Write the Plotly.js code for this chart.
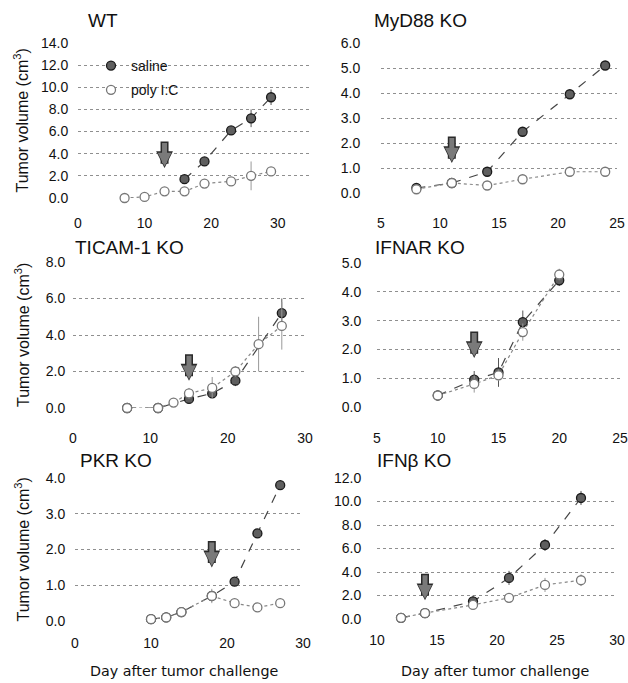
<!DOCTYPE html>
<html>
<head>
<meta charset="utf-8">
<script src="https://cdn.plot.ly/plotly-3.0.1.min.js"></script>
<style>html,body{margin:0;padding:0;background:#fff;}#chart{width:628px;height:683px;}</style>
</head>
<body>
<div id="chart"></div>
<script>
// ---- Data ----
const panelNames = ["WT", "MyD88 KO", "TICAM-1 KO", "IFNAR KO", "PKR KO", "IFN\u03b2 KO"];

const wtSalineDays = [16, 19, 23, 26, 29];
const wtSalineVol  = [1.7, 3.3, 6.1, 7.2, 9.1];
const wtSalineErr  = [0.3, 0.4, 0.3, 0.8, 0.7];
const wtPolyDays   = [7, 10, 13, 16, 19, 23, 26, 29];
const wtPolyVol    = [0.0, 0.1, 0.6, 0.6, 1.3, 1.5, 2.0, 2.4];
const wtPolyErr    = [0.0, 0.1, 0.2, 0.3, 0.3, 0.4, 1.3, 0.3];

const myd88SalineDays = [8, 11, 14, 17, 21, 24];
const myd88SalineVol  = [0.2, 0.4, 0.85, 2.45, 3.95, 5.1];
const myd88SalineErr  = [0.05, 0.05, 0.1, 0.1, 0.1, 0.1];
const myd88PolyDays   = [8, 11, 14, 17, 21, 24];
const myd88PolyVol    = [0.15, 0.4, 0.3, 0.55, 0.85, 0.85];
const myd88PolyErr    = [0.05, 0.05, 0.1, 0.05, 0.1, 0.1];

const ticamSalineDays = [7, 11, 15, 18, 21, 27];
const ticamSalineVol  = [0.0, 0.0, 0.5, 0.8, 1.5, 5.2];
const ticamSalineErr  = [0.0, 0.0, 0.2, 0.2, 0.3, 0.8];
const ticamPolyDays   = [7, 11, 13, 15, 18, 21, 24, 27];
const ticamPolyVol    = [0.0, 0.0, 0.3, 0.8, 1.1, 2.0, 3.5, 4.5];
const ticamPolyErr    = [0.0, 0.0, 0.1, 0.3, 0.6, 0.3, 1.5, 1.3];

const ifnarSalineDays = [10, 13, 15, 17, 20];
const ifnarSalineVol  = [0.4, 0.95, 1.2, 2.95, 4.4];
const ifnarSalineErr  = [0.05, 0.3, 0.5, 0.4, 0.2];
const ifnarPolyDays   = [10, 13, 15, 17, 20];
const ifnarPolyVol    = [0.4, 0.8, 1.1, 2.6, 4.6];
const ifnarPolyErr    = [0.05, 0.3, 0.2, 0.3, 0.2];

const pkrSalineDays = [10, 12, 14, 18, 21, 24, 27];
const pkrSalineVol  = [0.05, 0.1, 0.25, 0.7, 1.1, 2.45, 3.8];
const pkrSalineErr  = [0.0, 0.05, 0.05, 0.15, 0.1, 0.1, 0.05];
const pkrPolyDays   = [10, 12, 14, 18, 21, 24, 27];
const pkrPolyVol    = [0.05, 0.1, 0.25, 0.7, 0.5, 0.38, 0.5];
const pkrPolyErr    = [0.0, 0.05, 0.05, 0.2, 0.1, 0.05, 0.1];

const ifnbSalineDays = [12, 14, 18, 21, 24, 27];
const ifnbSalineVol  = [0.1, 0.5, 1.5, 3.5, 6.3, 10.3];
const ifnbSalineErr  = [0.05, 0.1, 0.5, 0.6, 0.5, 0.6];
const ifnbPolyDays   = [12, 14, 18, 21, 24, 27];
const ifnbPolyVol    = [0.1, 0.5, 1.2, 1.8, 2.9, 3.3];
const ifnbPolyErr    = [0.05, 0.1, 0.3, 0.4, 0.6, 0.5];

// treatment arrows (day, volume at tip)
const arrowDays = [13, 11, 15, 13, 18, 14];
const arrowVol  = [2.7, 1.2, 1.5, 1.7, 1.5, 1.6];

const xRanges = [[0, 35], [5, 25], [0, 30], [5, 25], [0, 30], [10, 30]];
const xDticks = [10, 5, 10, 5, 10, 5];
const yRanges = [[0, 14], [0, 6], [0, 8], [0, 5], [0, 4], [0, 12]];
const yDticks = [2, 1, 2, 1, 1, 2];

const seriesNames = ["saline", "poly I:C"];
const yTitle = "Tumor volume (cm<sup>3</sup>)";
const xTitle = "Day after tumor challenge";

// ---- Layout geometry ----
const W = 628, H = 683;
const pxBoxes = [ // [left, right, top, bottom] in pixels
  [78, 311, 43, 198],
  [381, 617, 43, 193],
  [73, 305, 262, 408],
  [377, 620, 263, 407],
  [75, 303, 478, 621],
  [377, 617, 478, 619]
];
const yTickGap = [6, 17, 4, 12, 6, 12];
const xTickGap = [12, 17, 17, 18, 9, 8];
const titlePos = [[86, 20], [372, 20], [73, 247], [373, 247], [78, 460], [375, 460]];

const panels = [
  [wtSalineDays, wtSalineVol, wtSalineErr, wtPolyDays, wtPolyVol, wtPolyErr],
  [myd88SalineDays, myd88SalineVol, myd88SalineErr, myd88PolyDays, myd88PolyVol, myd88PolyErr],
  [ticamSalineDays, ticamSalineVol, ticamSalineErr, ticamPolyDays, ticamPolyVol, ticamPolyErr],
  [ifnarSalineDays, ifnarSalineVol, ifnarSalineErr, ifnarPolyDays, ifnarPolyVol, ifnarPolyErr],
  [pkrSalineDays, pkrSalineVol, pkrSalineErr, pkrPolyDays, pkrPolyVol, pkrPolyErr],
  [ifnbSalineDays, ifnbSalineVol, ifnbSalineErr, ifnbPolyDays, ifnbPolyVol, ifnbPolyErr]
];

const tickFont = {family: "Liberation Sans, Arial, sans-serif", size: 14, color: "#111"};
const traces = [];
const layout = {
  width: W, height: H,
  margin: {l: 0, r: 0, t: 0, b: 0},
  paper_bgcolor: "#fff", plot_bgcolor: "#fff",
  showlegend: true,
  legend: {x: 91 / W, y: 1 - 50 / H, xanchor: "left", yanchor: "top",
           bgcolor: "rgba(0,0,0,0)", font: {family: "Liberation Sans, Arial, sans-serif", size: 14, color: "#111"},
           itemwidth: 30, tracegroupgap: 3},
  annotations: [],
  shapes: []
};

panels.forEach((p, i) => {
  const n = i === 0 ? "" : String(i + 1);
  const xa = "x" + n, ya = "y" + n;
  const b = pxBoxes[i];
  layout["xaxis" + n] = {
    domain: [b[0] / W, b[1] / W], range: xRanges[i], dtick: xDticks[i], tick0: 0,
    anchor: ya, showgrid: false, zeroline: false, showline: false,
    ticks: "outside", ticklen: xTickGap[i], tickcolor: "rgba(0,0,0,0)",
    tickfont: tickFont, fixedrange: true
  };
  layout["yaxis" + n] = {
    domain: [1 - b[3] / H, 1 - b[2] / H], range: yRanges[i], dtick: yDticks[i], tick0: 0,
    anchor: xa, showgrid: true, gridcolor: "#8f8f8f", griddash: "dot", gridwidth: 1,
    zeroline: false, showline: false, tickformat: ".1f",
    ticks: "outside", ticklen: yTickGap[i], tickcolor: "rgba(0,0,0,0)",
    tickfont: tickFont, fixedrange: true
  };
  // lines
  traces.push({x: p[0], y: p[1], xaxis: xa, yaxis: ya, mode: "lines", showlegend: false, hoverinfo: "skip",
               line: {color: "#444", width: 1.2, dash: "dash"}});
  traces.push({x: p[3], y: p[4], xaxis: xa, yaxis: ya, mode: "lines", showlegend: false, hoverinfo: "skip",
               line: {color: "#888", width: 1.2, dash: "dot"}});
  // markers with error bars
  traces.push({x: p[0], y: p[1], xaxis: xa, yaxis: ya, mode: "markers", name: seriesNames[0],
               legendgroup: "saline", showlegend: i === 0, cliponaxis: false,
               marker: {symbol: "circle", size: 9, color: "#5f5f5f", line: {color: "#1a1a1a", width: 1.3}},
               error_y: {type: "data", array: p[2], visible: true, color: "#555", thickness: 1, width: 0}});
  traces.push({x: p[3], y: p[4], xaxis: xa, yaxis: ya, mode: "markers", name: seriesNames[1],
               legendgroup: "poly", showlegend: i === 0, cliponaxis: false,
               marker: {symbol: "circle", size: 9, color: "#fff", line: {color: "#777", width: 1.3}},
               error_y: {type: "data", array: p[5], visible: true, color: "#999", thickness: 1, width: 0}});
  // panel title
  layout.annotations.push({text: panelNames[i], xref: "paper", yref: "paper",
    x: titlePos[i][0] / W, y: 1 - titlePos[i][1] / H,
    xanchor: "left", yanchor: "middle", showarrow: false,
    font: {family: "Liberation Sans, Arial, sans-serif", size: 19, color: "#111"}});
  // treatment arrow: dark outline underneath, grey arrow on top
  layout.annotations.push({x: arrowDays[i], y: arrowVol[i], xref: xa, yref: ya, text: "",
    showarrow: true, ax: 0, ay: -28, arrowhead: 2, arrowsize: 0.42, arrowwidth: 8, arrowcolor: "#2a2a2a",
    standoff: 0});
  layout.annotations.push({x: arrowDays[i], y: arrowVol[i], xref: xa, yref: ya, text: "",
    showarrow: true, ax: 0, ay: -26.5, arrowhead: 2, arrowsize: 0.55, arrowwidth: 5, arrowcolor: "#7a7a7a",
    standoff: 1.5});
});

// y-axis titles for left column
[[43, 198], [262, 408], [478, 621]].forEach(r => {
  layout.annotations.push({text: yTitle, xref: "paper", yref: "paper",
    x: 22 / W, y: 1 - ((r[0] + r[1]) / 2) / H, textangle: -90, showarrow: false,
    xanchor: "center", yanchor: "middle",
    font: {family: "Liberation Sans, Arial, sans-serif", size: 16, color: "#111"}});
});
// x-axis titles for bottom row
[184, 495].forEach(cx => {
  layout.annotations.push({text: xTitle, xref: "paper", yref: "paper",
    x: cx / W, y: 1 - 671 / H, showarrow: false, xanchor: "center", yanchor: "middle",
    font: {family: "DejaVu Sans, sans-serif", size: 14.3, color: "#111"}});
});

Plotly.newPlot("chart", traces, layout, {displayModeBar: false, staticPlot: true});
</script>
</body>
</html>
